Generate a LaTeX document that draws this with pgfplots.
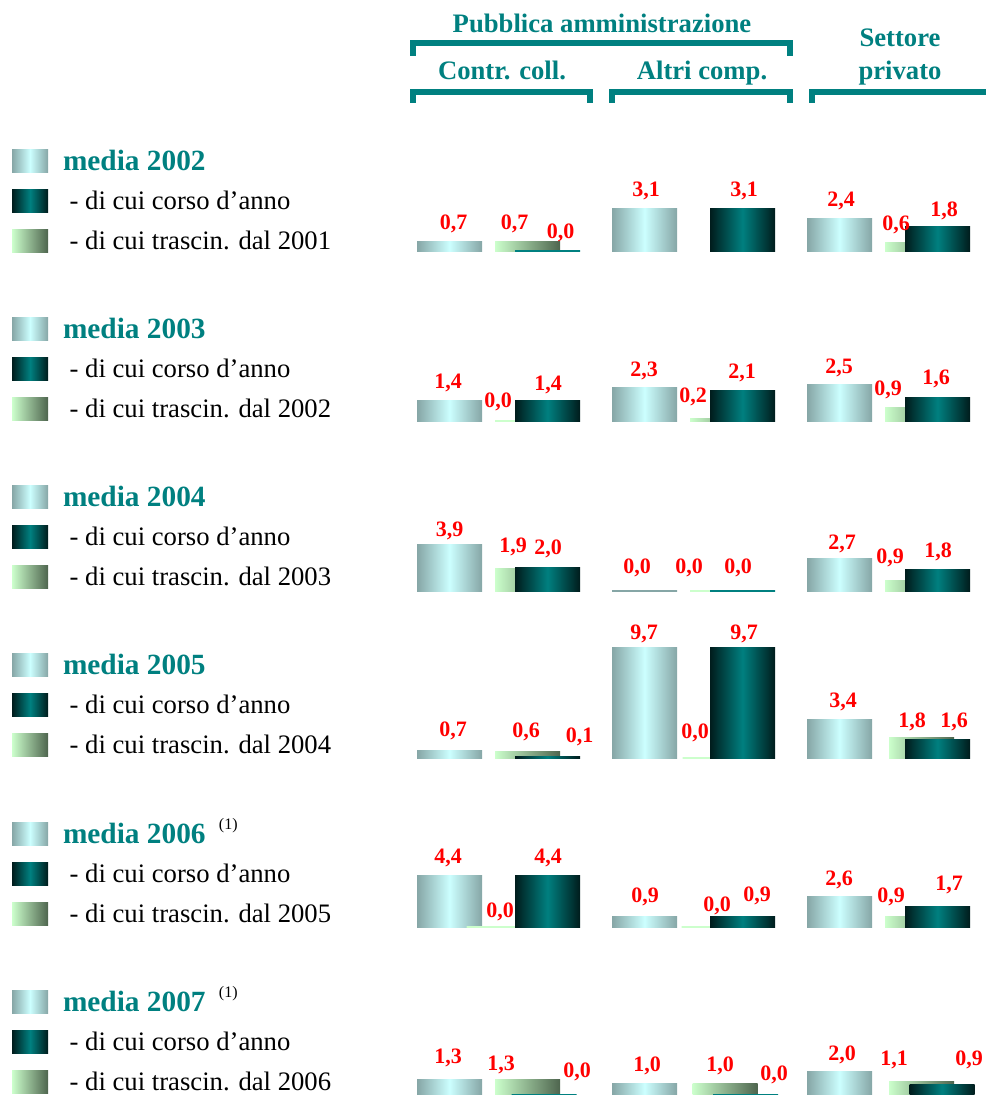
\documentclass[border=0pt]{standalone}
\usepackage{pgfplots}
\pgfplotsset{compat=1.18}
\usepackage{pgfplotstable}
\usepackage{fontspec}
\setmainfont{Liberation Serif}
\newlength\px \setlength\px{0.75pt}
\definecolor{tealc}{HTML}{008080}
\definecolor{medE}{HTML}{86A6A6}
\definecolor{medM}{HTML}{CCFFFF}
\definecolor{corE}{HTML}{001C1C}
\definecolor{corM}{HTML}{008080}
\definecolor{traL}{HTML}{CCFFCC}
\definecolor{traR}{HTML}{4E654E}
\definecolor{labred}{HTML}{FF0000}
\newcommand\lblfont{\fontsize{16.5}{19}\selectfont\bfseries}
\newcommand\hdrfont{\fontsize{20}{24}\selectfont\bfseries}
\newcommand\legfont{\fontsize{20}{24}\selectfont}
\newcommand\legbold{\fontsize{22}{26}\selectfont\bfseries}

% columns: media (m), trascinamento (t), corso d'anno (c); x = bar centre (px), y = value, dx/dy = label offsets (px)
\pgfplotstableread{
xm ym dxm dym xt yt dxt dyt xc yc dxc dyc
449.5 0.7 4 17.4 527.5 0.7 -13 17.4 547.5 0.0 13 18
644.5 3.1 1.5 17.5 722.5 nan 0 0 742.5 3.1 1.5 17.5
839.5 2.4 1.5 17 917.5 0.6 -21.5 18 937.5 1.8 6.5 15
}\rowA
\pgfplotstableread{
xm ym dxm dym xt yt dxt dyt xc yc dxc dyc
449.5 1.4 -1.5 17.6 527.5 0.0 -29.5 19 547.5 1.4 0.5 15.6
644.5 2.3 -0.5 16.4 722.5 0.2 -29.5 21 742.5 2.1 -0.5 17.3
839.5 2.5 -0.5 16.5 917.5 0.9 -29.5 18 937.5 1.6 -1.5 18.6
}\rowB
\pgfplotstableread{
xm ym dxm dym xt yt dxt dyt xc yc dxc dyc
449.5 3.9 0 13.6 527.5 1.9 -14.5 21.4 547.5 2.0 0.5 18.2
644.5 0.0 -7.5 23 722.5 0.0 -33.5 23 742.5 0.0 -4.5 23
839.5 2.7 2.5 14.9 917.5 0.9 -27.5 22.3 937.5 1.8 0.5 17.6
}\rowC
\pgfplotstableread{
xm ym dxm dym xt yt dxt dyt xc yc dxc dyc
449.5 0.7 3.5 19 527.5 0.6 -1.5 19 547.5 0.1 32 20
644.5 9.7 -0.5 13 715 0.0 -20 25 742.5 9.7 1.5 13
839.5 3.4 3.5 17 921.5 1.8 -9.5 15.4 937.5 1.6 16.5 17.7
}\rowD
\pgfplotstableread{
xm ym dxm dym xt yt dxt dyt xc yc dxc dyc
449.5 4.4 -1.5 17 499 0.0 1 15 547.5 4.4 0.5 17
644.5 0.9 0.5 19.4 714 0.0 3 21 742.5 0.9 14.5 20.4
839.5 2.6 -0.5 16.3 917.5 0.9 -26.5 19.4 937.5 1.7 11.5 22
}\rowE
\pgfplotstableread{
xm ym dxm dym xt yt dxt dyt xc yc dxc dyc
449.5 1.3 -1.5 21.4 527.5 1.3 -26.5 14.4 544 0.0 33 23
644.5 1.0 2.5 17 725 1.0 -5 17 745.5 0.0 28.5 20
839.5 2.0 2.5 16 921.5 1.1 -27.5 22 942 0.9 27 24
}\rowF

\pgfplotsset{
  rowaxis/.style={scale only axis, width=438.75pt, height=90pt,
    xmin=400, xmax=985, ymin=0, ymax=#1, hide axis, clip=false, anchor=south west,
    legend cell align=left,
    legend style={draw=none, fill=none, inner sep=0pt, outer sep=0pt, anchor=north west,
      row sep=12.75pt, column sep=11.25pt, font=\legfont, nodes={inner sep=0pt, outer sep=0pt}},
  },
  lbl/.style={point meta=y,
    nodes near coords={\pgfmathprintnumber[fixed,fixed zerofill,precision=1,use comma,assume math mode=true]{\pgfplotspointmeta}},
    visualization depends on={\thisrow{dx#1}\as\dx},
    visualization depends on={\thisrow{dy#1}\as\dy},
    every node near coord/.append style={anchor=center, inner sep=0pt, font=\lblfont, text=labred,
      xshift={\dx*\px}, yshift={\dy*\px}},
  },
  barbase/.style={ybar, bar shift=0pt, bar width=65, forget plot},
  mediaA/.style={barbase, draw=none, left color=medE, right color=medE, middle color=medM, restrict y to domain=0.05:100, lbl=m},
  mediaB/.style={barbase, fill=none, draw=medE, line width=2.2\px, restrict y to domain=-0.05:0.05, lbl=m},
  trasA/.style={barbase, draw=none, left color=traL, right color=traR, restrict y to domain=0.05:100, lbl=t},
  trasB/.style={barbase, fill=none, draw=traL, line width=2.2\px, restrict y to domain=-0.05:0.05, lbl=t},
  corsA/.style={barbase, draw=none, left color=corE, right color=corE, middle color=corM, restrict y to domain=0.05:100, lbl=c},
  corsB/.style={barbase, fill=none, draw=corM, line width=2.2\px, restrict y to domain=-0.05:0.05, lbl=c},
  legM/.style={legend image code/.code={\path[draw=none,left color=medE,right color=medE,middle color=medM] (0pt,-8.6pt) rectangle (27pt,8.6pt);}},
  legC/.style={legend image code/.code={\path[draw=none,left color=corE,right color=corE,middle color=corM] (0pt,-8.6pt) rectangle (27pt,8.6pt);}},
  legT/.style={legend image code/.code={\path[draw=none,left color=traL,right color=traR] (0pt,-8.6pt) rectangle (27pt,8.6pt);}},
}
% one group (one bar per plot, so every bar gets its own shading)
\newcommand\grpplots[2]{%
  \addplot[mediaA, restrict x to domain=#2] table[x=xm,y=ym]{#1};
  \addplot[mediaB, restrict x to domain=#2] table[x=xm,y=ym]{#1};
  \addplot[trasA, restrict x to domain=#2] table[x=xt,y=yt]{#1};
  \addplot[trasB, restrict x to domain=#2] table[x=xt,y=yt]{#1};
  \addplot[corsA, restrict x to domain=#2] table[x=xc,y=yc]{#1};
  \addplot[corsB, restrict x to domain=#2] table[x=xc,y=yc]{#1};
}
\newcommand\rowplots[1]{%
  \grpplots{#1}{400:600}%
  \grpplots{#1}{600:800}%
  \grpplots{#1}{800:990}%
}
\newcommand\legrows[3]{%
  \addlegendimage{legM}\addlegendentry{\legbold\textcolor{tealc}{#1}#3}
  \addlegendimage{legC}\addlegendentry{\hspace*{5pt}- di cui corso d’anno}
  \addlegendimage{legT}\addlegendentry{\hspace*{5pt}- di cui trascin. dal #2}
}
\newcommand\note{\hspace*{10pt}\smash{\raisebox{10pt}{\fontsize{12}{14}\selectfont\mdseries (1)}}}

\begin{document}
\begin{tikzpicture}
\begin{scope}[x=0.75pt,y=-0.75pt]
  \node[font=\hdrfont, text=tealc, anchor=base, inner sep=0pt] at (602,33) {Pubblica amministrazione};
  \draw[tealc, line width=6\px] (413,56) -- (413,43) -- (790,43) -- (790,56);
  \node[font=\hdrfont, text=tealc, anchor=base, inner sep=0pt] at (502,80) {Contr. coll.};
  \node[font=\hdrfont, text=tealc, anchor=base, inner sep=0pt] at (702,80) {Altri comp.};
  \node[font=\hdrfont, text=tealc, anchor=base, inner sep=0pt] at (900,47) {Settore};
  \node[font=\hdrfont, text=tealc, anchor=base, inner sep=0pt] at (900,80) {privato};
  \draw[tealc, line width=6\px] (413,103) -- (413,92) -- (590,92) -- (590,103);
  \draw[tealc, line width=6\px] (612,103) -- (612,92) -- (790,92) -- (790,103);
  \draw[tealc, line width=6\px] (812,103) -- (812,92) -- (995,92);
\end{scope}

\begin{axis}[rowaxis=8.759, at={(300pt,-188.25pt)}, legend style={at={(axis description cs:-0.6632,0.846)}}]
  \legrows{media 2002}{2001}{}
  \rowplots{\rowA}
\end{axis}
\begin{axis}[rowaxis=8.219, at={(300pt,-315.75pt)}, legend style={at={(axis description cs:-0.6632,0.8625)}}]
  \legrows{media 2003}{2002}{}
  \rowplots{\rowB}
\end{axis}
\begin{axis}[rowaxis=10.084, at={(300pt,-443.25pt)}, legend style={at={(axis description cs:-0.6632,0.879)}}]
  \legrows{media 2004}{2003}{}
  \rowplots{\rowC}
\end{axis}
\begin{axis}[rowaxis=10.49, at={(300pt,-568.5pt)}, legend style={at={(axis description cs:-0.6632,0.871)}}]
  \legrows{media 2005}{2004}{}
  \rowplots{\rowD}
\end{axis}
\begin{axis}[rowaxis=10.17, at={(300pt,-695.25pt)}, legend style={at={(axis description cs:-0.6632,0.871)}}]
  \legrows{media 2006}{2005}{\note}
  \rowplots{\rowE}
\end{axis}
\begin{axis}[rowaxis=10, at={(300pt,-821.25pt)}, legend style={at={(axis description cs:-0.6632,0.871)}}]
  \legrows{media 2007}{2006}{\note}
  \rowplots{\rowF}
\end{axis}

\pgfresetboundingbox
\path (0pt,0pt) rectangle (738.75pt,-821.25pt);
\end{tikzpicture}
\end{document}
